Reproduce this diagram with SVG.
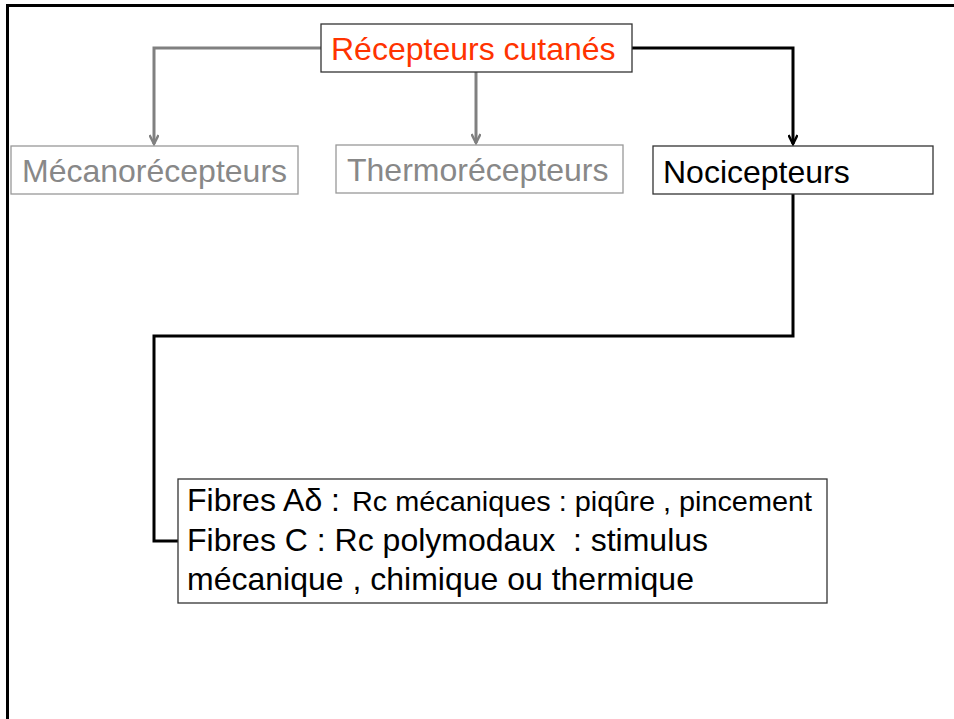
<svg xmlns="http://www.w3.org/2000/svg" width="954" height="719" viewBox="0 0 954 719">
<style>
text{font-family:"Liberation Sans",Arial,sans-serif;font-size:32px;white-space:pre}
.box{fill:#fff;stroke-width:1.3}
.gbox{stroke:#999}
.kbox{stroke:#333}
.gline{fill:none;stroke:#808080;stroke-width:3}
.kline{fill:none;stroke:#000;stroke-width:3}
</style>
<defs>
<marker id="ag" markerWidth="12" markerHeight="10" refX="10" refY="5" orient="auto" markerUnits="userSpaceOnUse" viewBox="0 0 12 10">
<polyline points="1,0.5 10,5 1,9.5" fill="none" stroke="#808080" stroke-width="2.5"/>
</marker>
<marker id="ak" markerWidth="12" markerHeight="10" refX="10" refY="5" orient="auto" markerUnits="userSpaceOnUse" viewBox="0 0 12 10">
<polyline points="1,0.5 10,5 1,9.5" fill="none" stroke="#000" stroke-width="2.5"/>
</marker>
</defs>
<rect width="954" height="719" fill="#fff"/>
<g id="frame">
<path d="M954,5.5 H7.5 V719" fill="none" stroke="#000" stroke-width="3"/>
</g>
<g id="connectors">
<path class="gline" d="M321,48 H154 V144" marker-end="url(#ag)"/>
<path class="gline" d="M476,72 V143" marker-end="url(#ag)"/>
<path class="kline" d="M632,48 H793 V144" marker-end="url(#ak)"/>
<path class="kline" d="M793,194 V336 H154 V541 H178"/>
</g>
<g id="recepteurs">
<rect class="box kbox" x="321" y="24" width="311" height="48"/>
<text x="331" y="60" fill="#FF3300">Récepteurs cutanés</text>
</g>
<g id="mecano">
<rect class="box gbox" x="11" y="146" width="287" height="48"/>
<text x="22" y="182" fill="#888">Mécanorécepteurs</text>
</g>
<g id="thermo">
<rect class="box gbox" x="336" y="145" width="287" height="48"/>
<text x="347" y="181" fill="#888">Thermorécepteurs</text>
</g>
<g id="noci">
<rect class="box kbox" x="653" y="146" width="280" height="48"/>
<text x="663" y="183" fill="#000">Nocicepteurs</text>
</g>
<g id="fibres">
<rect class="box kbox" x="178" y="479" width="649" height="124"/>
<text x="187" y="511" fill="#000">Fibres Aδ :  <tspan font-size="28" x="352" textLength="460" lengthAdjust="spacingAndGlyphs">Rc mécaniques : piqûre , pincement</tspan></text>
<text x="187" y="551" fill="#000">Fibres C : Rc polymodaux  : stimulus</text>
<text x="187" y="590" fill="#000">mécanique , chimique ou thermique</text>
</g>
</svg>
